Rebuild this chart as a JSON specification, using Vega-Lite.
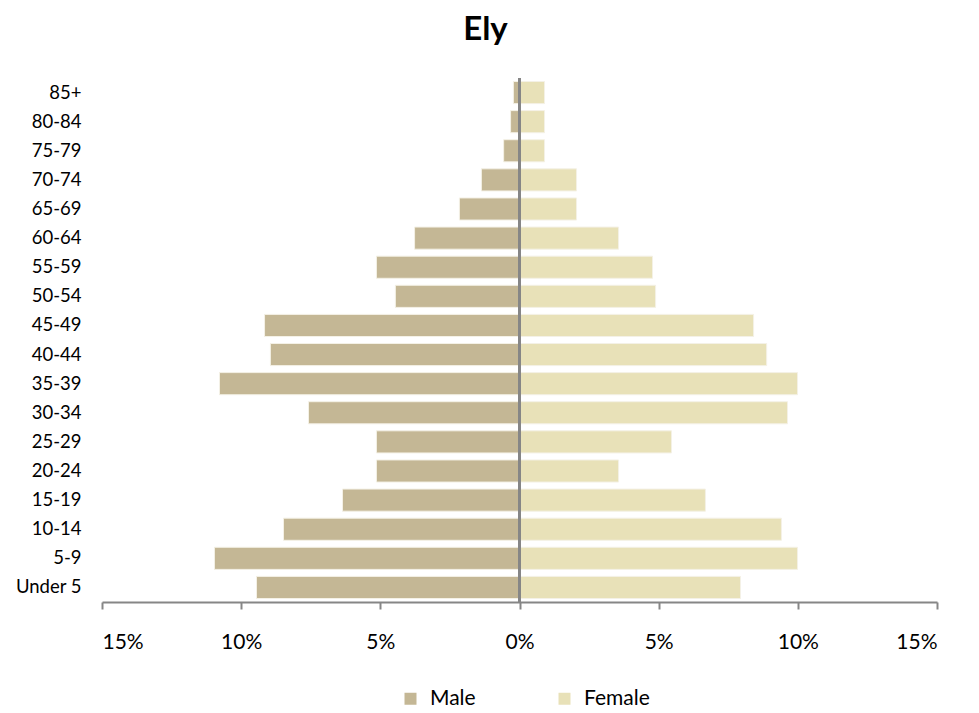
{
  "$schema": "https://vega.github.io/schema/vega-lite/v6.json",
  "autosize": {"type": "none"},
  "width": 835,
  "height": 524,
  "padding": {"left": 102, "top": 78, "right": 42, "bottom": 111},
  "background": "white",
  "config": {
    "view": {"stroke": null},
    "font": "Lato"
  },
  "title": {
    "text": "Ely",
    "fontSize": 33,
    "fontWeight": "bold",
    "font": "Lato",
    "color": "#000000",
    "anchor": "middle",
    "frame": "group",
    "dx": -34,
    "offset": 30
  },
  "data": {
    "values": [
      {"age": "85+", "sex": "Male", "share": -0.22},
      {"age": "80-84", "sex": "Male", "share": -0.32},
      {"age": "75-79", "sex": "Male", "share": -0.57},
      {"age": "70-74", "sex": "Male", "share": -1.37},
      {"age": "65-69", "sex": "Male", "share": -2.16},
      {"age": "60-64", "sex": "Male", "share": -3.77},
      {"age": "55-59", "sex": "Male", "share": -5.14},
      {"age": "50-54", "sex": "Male", "share": -4.46},
      {"age": "45-49", "sex": "Male", "share": -9.16},
      {"age": "40-44", "sex": "Male", "share": -8.95},
      {"age": "35-39", "sex": "Male", "share": -10.78},
      {"age": "30-34", "sex": "Male", "share": -7.58},
      {"age": "25-29", "sex": "Male", "share": -5.14},
      {"age": "20-24", "sex": "Male", "share": -5.14},
      {"age": "15-19", "sex": "Male", "share": -6.36},
      {"age": "10-14", "sex": "Male", "share": -8.48},
      {"age": "5-9", "sex": "Male", "share": -10.96},
      {"age": "Under 5", "sex": "Male", "share": -9.45},
      {"age": "85+", "sex": "Female", "share": 0.9},
      {"age": "80-84", "sex": "Female", "share": 0.9},
      {"age": "75-79", "sex": "Female", "share": 0.9},
      {"age": "70-74", "sex": "Female", "share": 2.05},
      {"age": "65-69", "sex": "Female", "share": 2.05},
      {"age": "60-64", "sex": "Female", "share": 3.56},
      {"age": "55-59", "sex": "Female", "share": 4.78},
      {"age": "50-54", "sex": "Female", "share": 4.89},
      {"age": "45-49", "sex": "Female", "share": 8.41},
      {"age": "40-44", "sex": "Female", "share": 8.88},
      {"age": "35-39", "sex": "Female", "share": 9.99},
      {"age": "30-34", "sex": "Female", "share": 9.63},
      {"age": "25-29", "sex": "Female", "share": 5.46},
      {"age": "20-24", "sex": "Female", "share": 3.56},
      {"age": "15-19", "sex": "Female", "share": 6.68},
      {"age": "10-14", "sex": "Female", "share": 9.41},
      {"age": "5-9", "sex": "Female", "share": 9.99},
      {"age": "Under 5", "sex": "Female", "share": 7.94}
    ]
  },
  "layer": [
    {
      "mark": {"type": "bar", "stroke": "#f4f1e6", "strokeWidth": 1},
      "encoding": {
        "y": {
          "field": "age",
          "type": "nominal",
          "sort": ["85+", "80-84", "75-79", "70-74", "65-69", "60-64", "55-59", "50-54", "45-49", "40-44", "35-39", "30-34", "25-29", "20-24", "15-19", "10-14", "5-9", "Under 5"],
          "scale": {"paddingInner": 0.24, "paddingOuter": 0.12},
          "axis": {
            "title": null,
            "domain": false,
            "ticks": false,
            "labelPadding": 21,
            "labelFontSize": 18.5,
            "labelColor": "#000000",
            "labelFont": "Lato"
          }
        },
        "x": {
          "field": "share",
          "type": "quantitative",
          "scale": {"domain": [-15, 15], "nice": false, "zero": false},
          "axis": {
            "title": null,
            "values": [-15, -10, -5, 0, 5, 10, 15],
            "labelExpr": "abs(datum.value) + '%'",
            "grid": false,
            "domainColor": "#868686",
            "domainWidth": 2,
            "tickColor": "#868686",
            "tickWidth": 2,
            "tickSize": 7,
            "labelPadding": 22,
            "labelFontSize": 21,
            "labelColor": "#000000",
            "labelFont": "Lato"
          }
        },
        "color": {
          "field": "sex",
          "type": "nominal",
          "scale": {"domain": ["Male", "Female"], "range": ["#C4B795", "#E8E1B8"]},
          "legend": {
            "title": null,
            "orient": "none",
            "direction": "horizontal",
            "legendX": 298,
            "legendY": 610,
            "symbolType": "square",
            "symbolSize": 144,
            "symbolStrokeWidth": 0,
            "symbolOpacity": 1,
            "labelFontSize": 21,
            "labelFont": "Lato",
            "labelColor": "#000000",
            "labelOffset": 9,
            "columnPadding": 78
          }
        }
      }
    },
    {
      "mark": {"type": "rule", "color": "#868686", "strokeWidth": 2},
      "encoding": {"x": {"datum": 0}}
    }
  ]
}
